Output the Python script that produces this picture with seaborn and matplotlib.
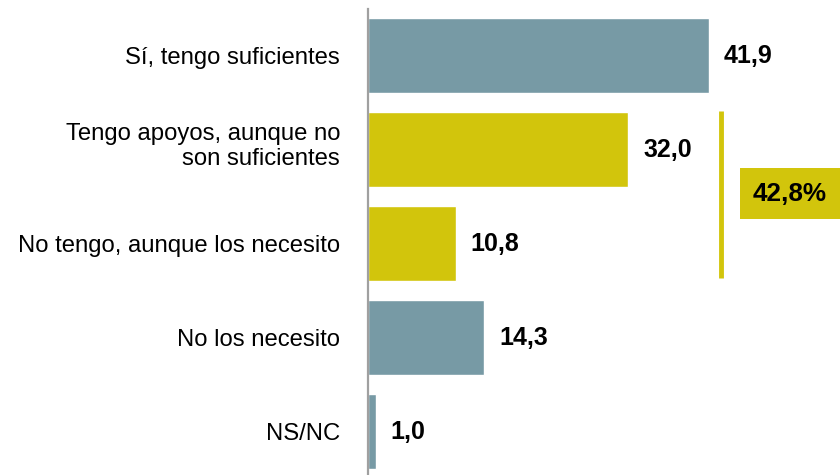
import matplotlib
matplotlib.use("Agg")
import matplotlib.pyplot as plt
import matplotlib.transforms as mtransforms
import seaborn as sns
from matplotlib.patches import Rectangle

categories = ["Sí, tengo suficientes",
              "Tengo apoyos, aunque no\nson suficientes",
              "No tengo, aunque los necesito",
              "No los necesito",
              "NS/NC"]
values = [41.9, 32.0, 10.8, 14.3, 1.0]
highlight = [False, True, True, False, False]

TEAL = "#779AA5"
YELLOW = "#D2C50C"

sns.set_theme(style="white")
plt.rcParams['font.family'] = ['Liberation Sans', 'DejaVu Sans']

fig = plt.figure(figsize=(8.4, 4.75), dpi=100)
ax = fig.add_axes([368 / 840, 0, 472 / 840, 466 / 475])

colors = [YELLOW if h else TEAL for h in highlight]
sns.barplot(x=values, y=categories, hue=categories, palette=colors,
            legend=False, width=0.8, orient="h", ax=ax, saturation=1)

ax.set_xlim(0, 58)
ax.set_ylim(4.46, -0.495)
ax.set_xlabel("")
ax.set_ylabel("")
ax.set_xticks([])
for s in ["top", "right", "bottom"]:
    ax.spines[s].set_visible(False)
ax.spines["left"].set_color("#A0A0A0")
ax.spines["left"].set_linewidth(1.6)
ax.tick_params(axis="y", length=0, pad=20, labelsize=17.2, labelcolor="black")
shift = mtransforms.ScaledTranslation(0, 7 / 100, fig.dpi_scale_trans)
for lbl in ax.get_yticklabels():
    lbl.set_linespacing(1.17)
    if "\n" in lbl.get_text():
        lbl.set_transform(lbl.get_transform() + shift)

# value labels
for i, v in enumerate(values):
    ax.annotate(f"{v:.1f}".replace(".", ","), xy=(v, i), xytext=(10.5, 0),
                textcoords="offset points", va="center", ha="left",
                fontsize=18, fontweight="bold", color="black")

# bracket for the highlighted group
idx = [i for i, h in enumerate(highlight) if h]
total = sum(values[i] for i in idx)
ax.plot([43.4, 43.4], [idx[0] - 0.41, idx[-1] + 0.37], color=YELLOW,
        lw=3.5, solid_capstyle="butt", clip_on=False)
ax.add_patch(Rectangle((45.7, 1.197), 13, 0.543, facecolor=YELLOW,
                       edgecolor="none", clip_on=False))
ax.text(51.85, 1.47, f"{total:.1f}".replace(".", ",") + "%", ha="center",
        va="center", fontsize=18.8, fontweight="bold", color="black")

fig.savefig("out.png", dpi=100)
